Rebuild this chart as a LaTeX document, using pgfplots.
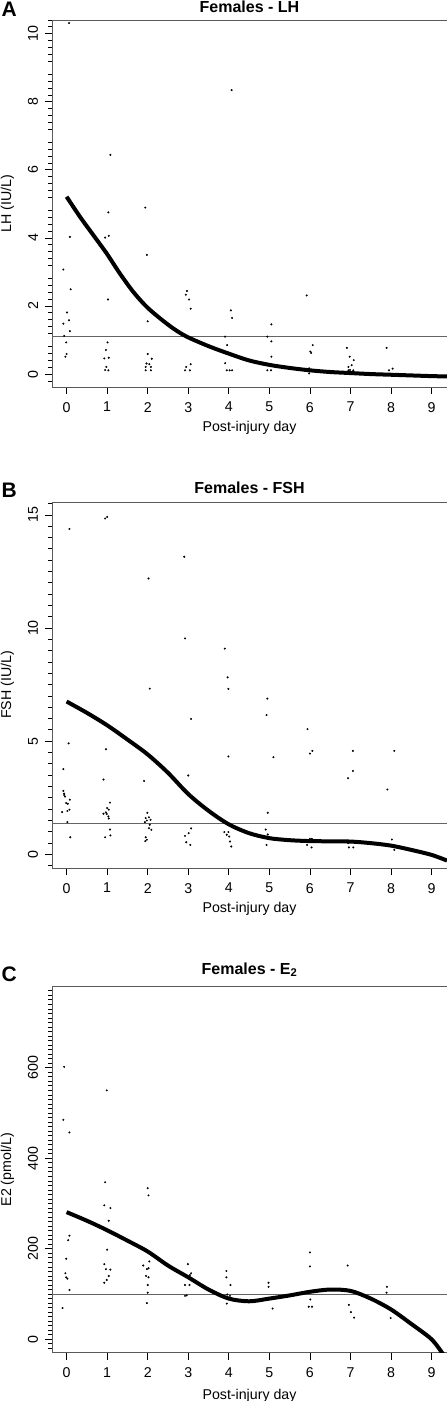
\documentclass[border=0pt]{standalone}
\usepackage{pgfplots}
\pgfplotsset{compat=1.18}
\usepackage{fontspec}
\setmainfont{Liberation Sans}
\definecolor{boxgray}{RGB}{90,90,90}
\definecolor{refgray}{RGB}{100,100,100}
\pgfplotsset{
  panel/.style={
    scale only axis, width=395bp, height=366bp,
    xmin=-0.36, xmax=9.38,
    xtick={0,1,2,3,4,5,6,7,8,9},
    tick pos=left, tick align=outside,
    major tick length=7bp, minor tick length=3.5bp,
    axis line style={boxgray, line width=0.9bp},
    every tick/.style={black, line width=0.7bp},
    /pgf/number format/assume math mode=true,
    ticklabel style={font=\fontsize{14.2bp}{16bp}\selectfont, inner sep=0pt},
    xticklabel style={anchor=north},
    xticklabel shift=8bp,
    yticklabel style={rotate=90, anchor=south},
    yticklabel shift=6.7bp,
    label style={font=\fontsize{14.2bp}{16bp}\selectfont},
    ylabel style={at={(axis description cs:-0.113,0.5)}, anchor=center},
    xlabel style={at={(axis description cs:0.5,-0.1216)}, anchor=base},
    xlabel={Post-injury day},
    every axis title shift=0pt,
    title style={font=\bfseries\fontsize{16bp}{18bp}\selectfont, anchor=base, inner sep=0pt},
    scaled y ticks=false,
  },
  dots/.style={only marks, mark=*, mark size=0.8bp, black},
  fit/.style={black, line width=4bp, smooth, tension=0.5, no marks},
  ref/.style={refgray, line width=0.9bp, no marks},
}
\begin{document}
\begin{tikzpicture}
\useasboundingbox (0,0) rectangle (447bp,-1401bp);
% ---------------- Panel A ----------------
\node[anchor=north west, inner sep=0pt, font=\bfseries\fontsize{21bp}{22bp}\selectfont] at (1.5bp,-2bp) {A};
\begin{axis}[panel, at={(52bp,-387bp)}, anchor=south west,
  height=367bp,
  ymin=-0.38, ymax=10.4,
  ytick={0,2,4,6,8,10},
  minor ytick={-0.4,-0.2,0.2,0.4,0.6,0.8,1.2,1.4,1.6,1.8,2.2,2.4,2.6,2.8,3.2,3.4,3.6,3.8,4.2,4.4,4.6,4.8,5.2,5.4,5.6,5.8,6.2,6.4,6.6,6.8,7.2,7.4,7.6,7.8,8.2,8.4,8.6,8.8,9.2,9.4,9.6,9.8,10.2,10.4},
  ylabel={LH (IU/L)},
  title={Females - LH},
  title style={at={(axis description cs:0.5,1.02)}},
]
\addplot[ref] coordinates {(-0.36,1.1) (9.38,1.1)};
\addplot[dots] coordinates {
(0.06,10.31) (4.07,8.34) (1.08,6.44) (1.03,4.75) (1.94,4.89) (0.08,4.03) (0.95,4.01) (1.04,4.06)
(1.98,3.50) (-0.08,3.07) (0.10,2.49) (1.02,2.19) (2.97,2.44) (2.94,2.33) (3.02,2.19) (3.06,1.92)
(4.05,1.87) (4.08,1.65) (5.92,2.31) (5.05,1.46)
(0.01,1.81) (0.06,1.58) (-0.08,1.48) (0.08,1.26) (-0.06,1.12) (-0.01,0.93) (0.00,0.59) (-0.03,0.51)
(2.00,1.55) (1.01,0.93) (0.97,0.71) (0.93,0.46) (1.04,0.48) (0.98,0.21) (1.03,0.11) (0.95,0.12)
(2.00,0.59) (2.10,0.45) (1.97,0.31) (2.04,0.29) (1.95,0.21) (2.08,0.21) (1.95,0.11) (2.08,0.11)
(3.91,1.10) (3.96,0.85) (3.91,0.32) (3.95,0.11) (4.02,0.11) (4.08,0.11)
(2.95,0.21) (3.06,0.29) (2.92,0.11) (3.04,0.11)
(4.95,1.10) (5.05,0.96) (5.05,0.51) (4.95,0.11) (5.04,0.11)
(6.07,0.85) (6.03,0.62) (6.01,0.66) (5.98,0.17) (5.98,0.02)
(6.91,0.77) (6.98,0.51) (7.08,0.41) (7.03,0.26) (6.95,0.21) (6.99,0.12) (7.07,0.11) (6.95,0.11)
(7.89,0.77) (7.95,0.11) (8.04,0.16)
};
\addplot[fit] coordinates {
(0,5.21) (0.33,4.62) (0.66,4.08) (0.99,3.54) (1.31,2.96) (1.64,2.42) (1.97,1.98) (2.30,1.64)
(2.63,1.34) (2.96,1.10) (3.5,0.82) (4,0.60) (4.5,0.40) (5,0.27) (5.5,0.18) (6,0.11) (6.5,0.06)
(7,0.03) (7.5,0.00) (8,-0.02) (8.5,-0.04) (9,-0.06) (9.38,-0.07)
};
\end{axis}
% ---------------- Panel B ----------------
\node[anchor=north west, inner sep=0pt, font=\bfseries\fontsize{21bp}{22bp}\selectfont] at (1.5bp,-483.3bp) {B};
\begin{axis}[panel, at={(52bp,-868bp)}, anchor=south west,
  ymin=-0.61, ymax=15.57,
  ytick={0,5,10,15},
  minor ytick={-0.5,0.5,1,1.5,2,2.5,3,3.5,4,4.5,5.5,6,6.5,7,7.5,8,8.5,9,9.5,10.5,11,11.5,12,12.5,13,13.5,14,14.5,15.5},
  ylabel={FSH (IU/L)},
  title={Females - FSH},
  title style={at={(axis description cs:0.5,1.0238)}},
]
\addplot[ref] coordinates {(-0.36,1.34) (9.38,1.34)};
\addplot[dots] coordinates {
(0.07,14.38) (1.00,14.91) (0.95,14.84) (2.90,13.15) (2.02,12.19) (2.92,9.54) (3.90,9.09) (3.97,7.82)
(3.99,7.31) (2.05,7.32) (4.95,6.88)
(4.93,6.15) (3.07,5.98) (5.94,5.53) (6.06,4.57) (6.00,4.45) (7.06,4.57) (8.08,4.57) (3.99,4.32)
(5.10,4.29) (7.06,3.68) (6.94,3.36) (7.91,2.86) (3.00,3.48)
(0.05,4.90) (0.97,4.64) (-0.08,3.76) (0.91,3.30) (1.91,3.24)
(-0.08,2.80) (-0.06,2.62) (-0.04,2.55) (-0.06,2.68)
(0.08,2.41) (-0.01,2.26) (0.03,2.23) (0.07,1.97) (0.02,1.91) (-0.11,1.86)
(0.02,1.42) (0.09,0.75)
(1.07,2.28) (1.00,2.04) (1.04,1.97) (0.97,1.85) (0.91,1.79) (0.99,1.78) (1.03,1.67) (1.04,1.58)
(1.07,1.09) (1.08,0.83) (0.95,0.75)
(1.99,1.83) (1.95,1.60) (2.03,1.63) (2.07,1.52) (1.98,1.49) (1.93,1.42) (2.05,1.30) (2.09,1.08) (2.03,1.15)
(1.95,0.75) (1.98,0.64) (1.94,0.58)
(3.07,1.14) (3.01,0.93) (2.92,0.81) (2.95,0.53) (3.05,0.41)
(3.89,0.98) (3.99,0.98) (3.95,0.86) (4.01,0.78) (4.03,0.56) (4.06,0.34)
(4.96,1.83) (4.91,1.09) (4.96,0.87) (4.93,0.41)
(5.93,0.41) (6.00,0.68) (6.05,0.68) (6.04,0.30)
(6.94,0.49) (6.96,0.30) (7.07,0.30)
(8.02,0.65) (8.08,0.19)
};
\addplot[fit] coordinates {
(0,6.75) (0.5,6.25) (1,5.70) (1.5,5.07) (2,4.41) (2.5,3.60) (3,2.66) (3.5,1.92) (4,1.32) (4.5,0.93)
(5,0.71) (5.5,0.62) (6,0.58) (6.5,0.57) (7,0.56) (7.5,0.49) (8,0.38) (8.5,0.19) (9,-0.03) (9.38,-0.28)
};
\end{axis}
% ---------------- Panel C ----------------
\node[anchor=north west, inner sep=0pt, font=\bfseries\fontsize{21bp}{22bp}\selectfont] at (1.5bp,-966.7bp) {C};
\begin{axis}[panel, at={(52bp,-1352.7bp)}, anchor=south west,
  ymin=-29.6, ymax=779,
  ytick={0,200,400,600},
  minor ytick={-20,-10,...,770},
  ylabel={E2 (pmol/L)},
  title={Females - E\textsubscript{2}},
  title style={at={(axis description cs:0.5,1.034)}},
  xlabel style={at={(axis description cs:0.5,-0.1265)}},
]
\addplot[ref] coordinates {(-0.36,100) (9.38,100)};
\addplot[dots] coordinates {
(-0.06,602) (0.99,550) (-0.08,485) (0.07,457)
(0.95,347) (0.93,296) (1.08,290) (1.04,262) (2.00,334) (2.02,318)
(0.07,229) (0.04,219) (-0.01,178) (-0.03,146) (-0.01,137) (0.02,134) (0.07,109) (-0.10,69)
(1.00,198) (0.93,166) (0.97,155) (1.08,154) (1.04,140) (0.99,131) (0.93,125)
(2.04,172) (1.89,163) (1.98,155) (2.02,157) (1.96,140) (2.02,137) (2.00,120) (2.00,103) (1.98,80)
(2.99,166) (3.07,146) (3.04,142) (2.92,120) (3.03,120) (2.92,96) (2.96,97)
(3.94,151) (3.94,137) (4.04,120) (3.96,99) (4.03,96) (3.95,79)
(4.98,125) (4.98,116) (5.08,68)
(6.00,192) (6.00,161) (6.01,88) (5.97,72) (6.05,72)
(6.93,163) (6.96,76) (7.01,60) (7.09,48)
(7.90,116) (7.89,103) (7.99,47)
};
\addplot[fit] coordinates {
(0,281) (0.5,262) (1,241) (1.5,218) (2,194) (2.5,163) (3,137) (3.5,110) (4,90) (4.5,84) (5,90)
(5.5,97) (6,105) (6.5,110) (7,107) (7.5,90) (8,66) (8.5,34) (9,0) (9.3,-35)
};
\end{axis}
\end{tikzpicture}
\end{document}
